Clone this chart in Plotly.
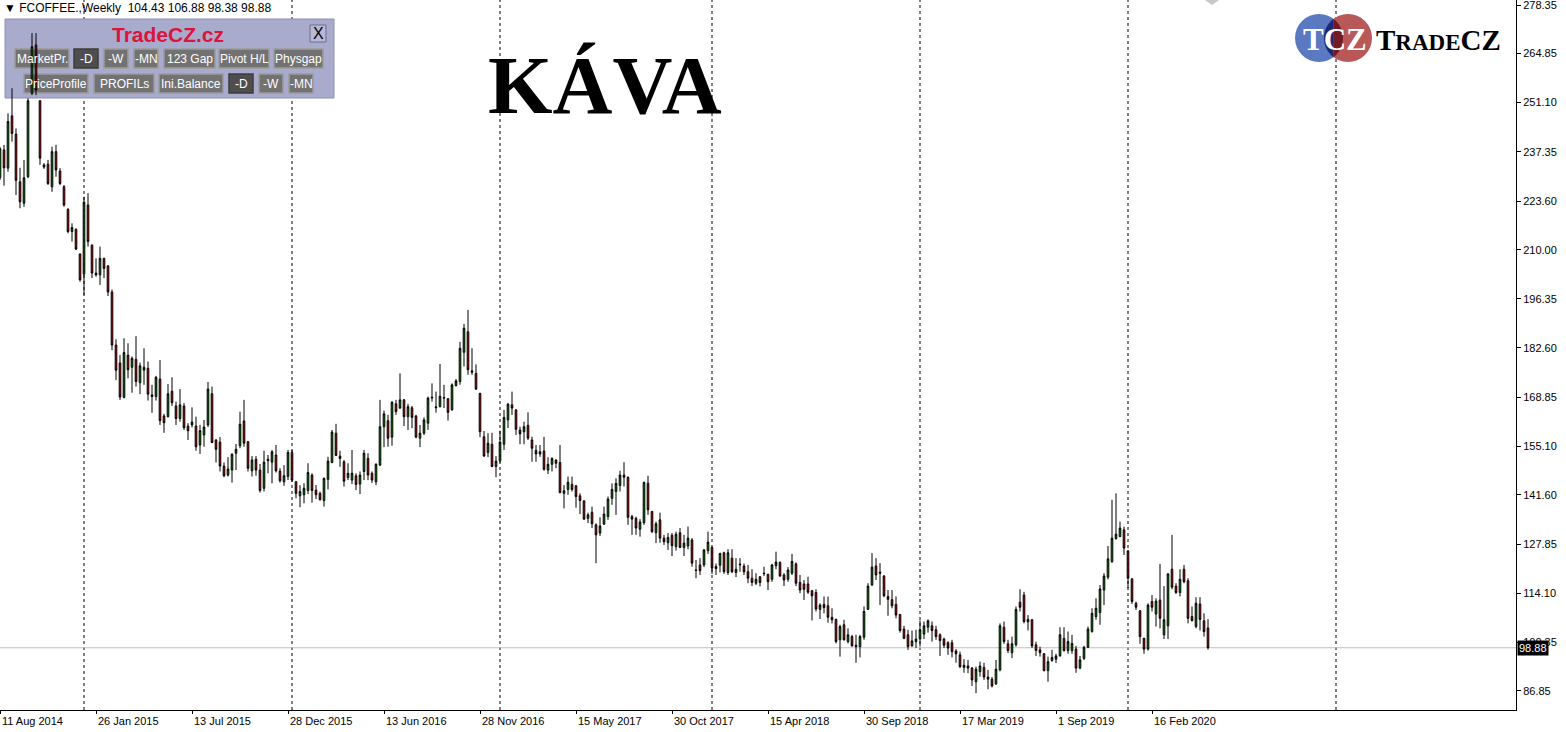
import numpy as np
import pandas as pd
import plotly.graph_objects as go

# weekly FCOFFEE bars, first bar week of 10 Aug 2014
first_bar = "2014-08-10"

opens = [230.1, 237.9, 232.8, 247.4, 242.3, 229.0, 223.0, 230.4, 253.7, 267.2,
         251.6, 233.1, 233.9, 227.6, 237.4, 232.0, 227.6, 221.3, 215.1, 215.7,
         208.8, 203.2, 222.5, 211.3, 203.5, 203.0, 207.6, 205.5, 198.2, 183.4,
         178.4, 168.8, 180.6, 177.2, 179.4, 172.9, 176.4, 176.9, 169.5, 169.0,
         173.9, 163.6, 163.4, 170.5, 166.4, 162.9, 166.4, 160.8, 161.1, 160.8,
         155.5, 158.3, 161.1, 169.8, 156.9, 156.3, 149.6, 147.1, 148.5, 153.2,
         155.3, 162.2, 156.4, 148.3, 151.5, 148.5, 143.4, 151.1, 150.7, 152.7,
         148.2, 145.2, 146.7, 153.4, 145.25, 141.3, 141.6, 142.8, 147.1, 142.9,
         142.0, 140.0, 145.9, 150.6, 158.8, 152.4, 150.8, 146.4, 145.7, 146.9,
         144.6, 148.1, 151.8, 147.6, 145.2, 149.9, 160.6, 162.3, 157.7, 167.0,
         165.8, 168.1, 163.4, 165.9, 163.6, 157.4, 158.8, 161.6, 168.6, 165.9,
         166.2, 168.6, 168.4, 165.3, 172.1, 173.2, 181.4, 187.1, 176.2, 175.5,
         169.9, 157.8, 153.4, 155.7, 149.5, 151.1, 155.7, 162.5, 166.7, 165.3,
         159.7, 159.2, 161.0, 156.9, 154.0, 153.0, 153.8, 148.5, 150.1, 151.3,
         150.6, 142.0, 143.1, 144.5, 144.1, 141.3, 139.9, 135.0, 136.7, 133.2,
         130.9, 133.4, 135.5, 140.6, 142.5, 144.2, 147.1, 146.5, 135.5, 135.0,
         132.0, 133.8, 144.8, 136.9, 131.0, 134.6, 129.5, 128.2, 130.3, 127.1,
         131.0, 126.9, 127.3, 129.0, 120.6, 122.0, 122.0, 126.0, 126.9, 121.6,
         121.9, 125.4, 119.9, 123.9, 119.9, 122.0, 121.7, 120.1, 118.3, 116.9,
         118.7, 119.7, 119.4, 118.0, 121.8, 122.7, 119.2, 118.0, 119.7, 122.3,
         117.1, 116.7, 116.7, 114.8, 114.3, 109.6, 111.0, 110.6, 107.4, 106.8,
         101.1, 105.3, 100.6, 102.0, 99.6, 99.2, 101.8, 109.6, 116.4, 121.7,
         120.0, 118.9, 113.2, 112.3, 111.0, 108.2, 104.1, 102.5, 99.4, 100.6,
         101.3, 102.7, 104.6, 105.0, 103.9, 102.5, 101.3, 100.3, 100.3, 98.0,
         96.9, 93.4, 93.8, 93.2, 89.4, 92.2, 93.4, 90.7, 90.1, 88.8,
         92.7, 104.6, 100.0, 97.5, 99.7, 111.6, 113.6, 106.1, 106.7, 99.7,
         98.3, 97.2, 92.5, 95.3, 95.7, 96.6, 101.5, 98.1, 98.1, 98.5,
         93.2, 95.9, 99.0, 103.4, 107.6, 108.7, 115.0, 118.6, 122.9, 129.4,
         129.9, 131.8, 125.9, 118.1, 111.3, 109.2, 101.5, 98.5, 111.8, 108.3,
         112.2, 102.5, 105.0, 120.8, 116.1, 114.3, 120.8, 117.6, 107.6, 104.8,
         111.1, 106.4, 104.43]

highs = [238.7, 239.3, 248.1, 255.1, 243.9, 232.9, 235.1, 252.3, 270.5, 270.5,
         251.8, 234.2, 235.1, 238.8, 239.3, 232.8, 228.1, 221.6, 217.4, 216.0,
         209.0, 224.8, 225.8, 211.5, 207.6, 210.9, 207.8, 205.75, 198.9, 185.0,
         180.6, 185.3, 183.9, 180.2, 185.9, 178.5, 182.5, 178.8, 172.3, 174.8,
         179.2, 164.2, 172.5, 174.4, 167.6, 171.1, 167.2, 161.6, 166.0, 163.4,
         161.1, 162.5, 173.1, 171.8, 157.1, 157.7, 150.6, 152.1, 153.2, 155.8,
         164.8, 168.1, 156.6, 152.4, 152.4, 150.2, 153.9, 152.7, 154.1, 155.5,
         149.0, 149.9, 154.1, 154.1, 145.3, 144.3, 144.8, 150.4, 147.6, 144.3,
         142.5, 146.4, 152.2, 159.7, 161.4, 153.9, 151.3, 150.4, 154.1, 147.6,
         148.1, 154.1, 153.2, 148.1, 150.4, 168.1, 165.1, 163.9, 167.8, 168.1,
         175.5, 168.3, 167.0, 166.4, 163.9, 161.1, 163.2, 169.0, 172.7, 170.4,
         178.1, 172.3, 168.6, 172.7, 173.9, 184.3, 189.3, 193.2, 182.5, 178.0,
         170.1, 159.4, 158.8, 158.9, 152.4, 159.5, 165.3, 167.2, 170.4, 165.5,
         160.6, 162.0, 164.6, 157.8, 155.5, 155.5, 157.8, 152.1, 152.1, 151.5,
         155.5, 144.3, 146.7, 146.7, 144.3, 142.0, 140.0, 136.6, 138.3, 133.6,
         135.3, 138.3, 141.1, 144.8, 146.2, 148.3, 150.7, 146.7, 136.0, 135.5,
         134.8, 145.3, 146.9, 137.1, 134.1, 136.6, 130.4, 130.9, 130.9, 131.3,
         132.3, 130.4, 132.7, 129.5, 123.4, 123.9, 126.4, 131.3, 127.1, 122.4,
         125.4, 125.7, 126.4, 126.4, 123.9, 123.9, 122.4, 122.0, 120.8, 119.7,
         118.9, 121.5, 119.5, 122.3, 125.7, 123.0, 119.7, 121.4, 125.1, 122.7,
         119.2, 117.8, 118.7, 115.0, 115.2, 111.3, 113.2, 113.2, 109.9, 107.0,
         105.3, 106.7, 104.3, 102.5, 102.5, 102.5, 110.4, 116.9, 125.3, 123.9,
         122.5, 119.2, 115.0, 115.0, 113.2, 108.3, 105.0, 103.9, 103.7, 103.9,
         106.5, 106.2, 106.8, 106.2, 105.0, 102.9, 101.7, 100.7, 101.1, 98.5,
         97.8, 95.7, 95.5, 93.5, 93.6, 95.0, 94.7, 92.7, 90.7, 95.5,
         105.7, 106.2, 101.1, 102.0, 110.4, 115.2, 114.5, 108.0, 106.9, 100.6,
         99.2, 97.4, 96.4, 98.3, 97.2, 104.6, 104.6, 103.4, 102.5, 99.4,
         96.6, 99.4, 104.8, 109.9, 112.7, 116.4, 119.7, 127.3, 140.2, 142.0,
         134.1, 132.7, 126.2, 118.3, 111.75, 109.4, 101.7, 111.3, 113.6, 112.7,
         122.3, 116.1, 119.7, 130.4, 116.9, 120.8, 122.0, 118.3, 110.4, 113.0,
         113.0, 108.5, 106.88]

lows = [229.5, 227.9, 231.8, 240.2, 225.3, 221.6, 222.0, 230.0, 253.2, 253.2,
        233.7, 232.6, 228.1, 226.2, 230.4, 228.1, 222.0, 214.6, 212.3, 209.9,
        201.1, 197.4, 210.9, 202.1, 202.5, 200.2, 202.1, 197.1, 182.0, 173.6,
        168.1, 168.5, 174.1, 170.1, 171.8, 169.7, 172.3, 167.9, 164.5, 167.9,
        161.1, 158.9, 163.2, 166.4, 161.1, 162.0, 159.7, 156.9, 160.4, 153.9,
        153.0, 155.0, 160.5, 156.0, 150.6, 148.1, 146.5, 146.7, 145.0, 148.5,
        154.6, 155.0, 148.1, 146.7, 146.9, 142.2, 142.5, 147.6, 144.8, 147.8,
        145.0, 144.1, 145.7, 145.2, 140.6, 138.1, 139.2, 141.8, 139.4, 140.4,
        140.0, 138.3, 143.1, 150.4, 152.4, 149.4, 143.9, 145.7, 144.6, 142.9,
        141.8, 145.7, 145.7, 144.9, 144.3, 149.6, 154.9, 155.0, 155.3, 163.9,
        165.6, 160.8, 159.7, 160.2, 157.4, 154.9, 158.3, 159.7, 167.6, 164.5,
        166.0, 165.8, 162.3, 165.1, 171.8, 172.3, 177.4, 175.1, 175.1, 170.9,
        157.7, 152.2, 152.1, 149.3, 146.5, 150.6, 154.1, 160.2, 163.9, 158.3,
        155.7, 155.7, 156.9, 150.8, 150.8, 152.2, 148.3, 147.4, 148.1, 149.0,
        142.0, 137.8, 141.6, 142.5, 138.0, 136.2, 134.6, 133.7, 132.3, 122.5,
        130.1, 133.2, 134.6, 138.8, 136.0, 142.5, 143.9, 133.2, 130.4, 130.4,
        129.9, 133.2, 136.0, 130.9, 128.1, 128.2, 127.6, 126.2, 124.5, 126.0,
        126.7, 124.5, 126.4, 121.5, 118.3, 119.2, 121.4, 125.1, 119.5, 119.2,
        119.9, 119.5, 119.2, 119.7, 118.6, 120.1, 119.2, 116.9, 116.1, 116.4,
        116.0, 118.9, 115.0, 117.3, 120.8, 118.7, 116.1, 117.3, 119.2, 116.1,
        114.1, 112.2, 113.9, 106.5, 109.0, 106.9, 108.5, 105.9, 105.7, 100.1,
        96.4, 100.9, 100.1, 99.2, 94.7, 96.2, 101.1, 109.4, 116.2, 117.8,
        110.8, 113.0, 107.8, 109.9, 107.1, 103.1, 101.3, 98.3, 99.2, 98.8,
        99.2, 101.3, 103.1, 100.6, 101.1, 96.6, 98.8, 96.9, 96.2, 94.7,
        93.2, 91.9, 91.8, 88.2, 86.2, 90.8, 89.9, 87.3, 87.8, 88.5,
        92.3, 100.0, 97.4, 96.0, 99.2, 109.0, 105.7, 103.7, 98.8, 96.6,
        96.4, 92.3, 89.4, 95.0, 94.6, 96.4, 97.8, 97.2, 97.2, 91.9,
        92.9, 95.5, 98.8, 103.1, 106.7, 105.3, 110.8, 118.0, 122.6, 129.0,
        129.8, 124.8, 115.5, 111.1, 109.4, 100.0, 97.2, 98.1, 109.0, 104.8,
        104.3, 101.3, 101.3, 115.2, 113.9, 113.2, 116.9, 105.7, 106.2, 104.3,
        103.7, 102.0, 98.38]

closes = [238.2, 232.9, 245.8, 242.5, 229.4, 223.4, 230.1, 251.6, 266.7, 254.6,
          235.6, 233.7, 228.5, 237.4, 232.3, 228.5, 222.5, 215.1, 216.2, 210.2,
          201.6, 223.3, 212.3, 203.5, 203.0, 207.6, 204.8, 198.2, 183.4, 176.4,
          168.9, 181.3, 176.5, 179.7, 173.2, 177.6, 177.2, 169.7, 169.0, 174.4,
          162.3, 161.7, 169.8, 167.3, 162.9, 166.7, 160.3, 159.5, 161.9, 155.0,
          159.5, 160.5, 171.1, 156.2, 154.3, 149.6, 146.9, 148.8, 152.9, 154.3,
          161.3, 156.0, 149.0, 151.3, 148.5, 142.8, 150.7, 151.5, 153.6, 148.3,
          145.5, 146.9, 153.4, 145.7, 142.0, 142.5, 143.4, 147.8, 142.8, 141.6,
          140.2, 146.2, 151.0, 159.1, 152.6, 151.7, 145.4, 147.6, 147.6, 144.5,
          147.1, 153.2, 147.1, 145.7, 150.1, 160.6, 164.2, 157.4, 167.4, 164.8,
          168.1, 163.4, 166.2, 163.2, 157.7, 158.8, 162.5, 168.6, 168.8, 166.1,
          169.1, 168.7, 164.6, 172.3, 173.4, 182.5, 188.1, 176.5, 175.8, 171.1,
          159.2, 152.4, 156.0, 149.5, 151.0, 156.3, 163.2, 166.9, 165.8, 159.9,
          158.6, 160.6, 157.4, 154.6, 153.0, 153.6, 148.7, 150.1, 151.7, 150.4,
          142.2, 142.7, 145.1, 143.1, 141.1, 140.0, 134.8, 136.0, 133.5, 130.4,
          132.9, 136.2, 140.4, 143.1, 144.8, 147.1, 146.5, 135.3, 134.8, 132.3,
          134.0, 145.0, 137.4, 131.3, 133.5, 129.5, 128.5, 129.7, 127.4, 130.6,
          126.9, 128.1, 129.5, 122.5, 120.5, 120.4, 126.2, 128.4, 121.1, 121.0,
          125.2, 120.1, 125.4, 120.1, 120.8, 122.2, 120.1, 118.3, 117.1, 118.0,
          117.1, 119.6, 117.3, 122.0, 122.8, 118.9, 117.8, 120.6, 123.0, 116.9,
          115.0, 115.2, 114.4, 113.4, 109.7, 110.8, 110.1, 107.4, 106.7, 100.6,
          104.8, 101.1, 102.5, 99.4, 99.2, 102.0, 109.0, 116.1, 121.4, 119.2,
          119.7, 113.4, 112.4, 110.6, 108.0, 103.7, 101.5, 99.2, 100.8, 101.3,
          103.9, 105.0, 106.4, 103.7, 102.0, 100.9, 99.6, 98.8, 97.8, 97.2,
          93.6, 94.0, 93.2, 89.9, 92.9, 93.8, 90.7, 90.1, 88.2, 92.9,
          105.0, 100.6, 98.1, 100.0, 109.6, 110.2, 106.2, 106.8, 99.4, 98.1,
          97.5, 92.5, 95.0, 96.2, 96.6, 102.5, 98.1, 100.6, 100.1, 93.2,
          95.5, 99.0, 104.1, 108.5, 109.9, 115.3, 118.9, 123.7, 129.5, 130.6,
          132.3, 126.7, 118.3, 111.8, 110.2, 102.0, 98.5, 110.8, 110.2, 111.9,
          107.1, 106.7, 119.5, 115.8, 114.3, 118.0, 117.3, 107.1, 106.5, 111.3,
          106.8, 103.4, 98.88]

dates = pd.date_range(first_bar, periods=len(closes), freq="7D")

# bottom date scale: one label every 24 bars
label_bars = list(range(0, 289, 24))
date_labels = ["11 Aug 2014", "26 Jan 2015", "13 Jul 2015", "28 Dec 2015",
               "13 Jun 2016", "28 Nov 2016", "15 May 2017", "30 Oct 2017",
               "15 Apr 2018", "30 Sep 2018", "17 Mar 2019", "1 Sep 2019",
               "16 Feb 2020"]

# first bar of each year (period separators)
year_starts = ["2015-01-04", "2016-01-03", "2017-01-01", "2018-01-07",
               "2019-01-06", "2020-01-05", "2021-01-03"]

price_ticks = [278.35, 264.85, 251.10, 237.35, 223.60, 210.00, 196.35, 182.60,
               168.85, 155.10, 141.60, 127.85, 114.10, 100.35, 86.85]

panel_buttons = [("MarketPr.", 15, 69, 0, False), ("-D", 74, 98, 0, True),
                 ("-W", 104, 128, 0, False), ("-MN", 134, 158, 0, False),
                 ("123 Gap", 164, 215, 0, False), ("Pivot H/L", 219, 269, 0, False),
                 ("Physgap", 274, 323, 0, False),
                 ("PriceProfile", 24, 88, 1, False), ("PROFILs", 94, 154, 1, False),
                 ("Ini.Balance", 159, 223, 1, False), ("-D", 229, 253, 1, True),
                 ("-W", 259, 283, 1, False), ("-MN", 289, 313, 1, False)]

W, H = 1566, 732
PW, PH = 1516, 710
FONT = "Liberation Sans, Arial, sans-serif"


def fx(px):
    return px / PW


def fy(py):
    return 1 - py / PH


def note(x, y, text, size, color="black", family=FONT, xa="center", ya="middle"):
    return dict(xref="paper", yref="paper", x=fx(x), y=fy(y), text=text,
                xanchor=xa, yanchor=ya, showarrow=False,
                font=dict(family=family, size=size, color=color))


fig = go.Figure(go.Candlestick(
    x=dates, open=opens, high=highs, low=lows, close=closes,
    increasing=dict(line=dict(color="black", width=1), fillcolor="#00A000"),
    decreasing=dict(line=dict(color="black", width=1), fillcolor="#F00000"),
    whiskerwidth=0, showlegend=False, hoverinfo="skip"))

shapes = []
annotations = []

# period separators
for d in year_starts:
    shapes.append(dict(type="line", xref="x", yref="paper", x0=d, x1=d, y0=0, y1=1,
                       line=dict(color="black", width=1, dash="3px,3px"), layer="below"))

# current price line
shapes.append(dict(type="line", xref="paper", yref="y", x0=0, x1=1,
                   y0=closes[-1], y1=closes[-1],
                   line=dict(color="#C0C0C0", width=1), layer="below"))

annotations.append(dict(xref="paper", yref="y", x=1, y=closes[-1], xanchor="left",
                        yanchor="middle", xshift=1, text=f"{closes[-1]:.2f}",
                        showarrow=False, bgcolor="black", borderpad=1,
                        font=dict(family=FONT, size=11, color="white")))

# date labels
for i, t in zip(label_bars, date_labels):
    annotations.append(dict(xref="x", yref="paper", x=dates[i], y=0, xanchor="left",
                            yanchor="top", yshift=-3, text=t, showarrow=False,
                            font=dict(family=FONT, size=11, color="black")))

# header
annotations.append(note(2, 8, f"▼ FCOFFEE.,Weekly &nbsp;{opens[-1]:.2f} {highs[-1]:.2f} "
                              f"{lows[-1]:.2f} {closes[-1]:.2f}", 12, xa="left"))

# indicator panel
shapes.append(dict(type="rect", xref="paper", yref="paper", x0=fx(5), x1=fx(334),
                   y0=fy(98), y1=fy(19), fillcolor="#A9ABCD",
                   line=dict(color="#8C8EB4", width=1), layer="below"))
shapes.append(dict(type="rect", xref="paper", yref="paper", x0=fx(310), x1=fx(326),
                   y0=fy(42), y1=fy(25), fillcolor="#B8B9D6",
                   line=dict(color="#6C6C8C", width=1), layer="below"))
annotations.append(note(318, 33.5, "X", 16))
annotations.append(note(168, 34, "<b>TradeCZ.cz</b>", 21, color="#DC143C"))
for label, x0, x1, row, dark in panel_buttons:
    y0, y1 = (49, 68) if row == 0 else (74, 93)
    shapes.append(dict(type="rect", xref="paper", yref="paper", x0=fx(x0), x1=fx(x1),
                       y0=fy(y1), y1=fy(y0),
                       fillcolor="#4E4E4E" if dark else "#727272",
                       line=dict(color="#3C3C3C" if dark else "#9C9C9C", width=1.5),
                       layer="below"))
    annotations.append(note((x0 + x1) / 2, (y0 + y1) / 2 + 0.5, label, 12, color="white"))

# title
annotations.append(note(605, 85, "<b>KÁVA</b>", 83,
                        family="Liberation Serif, Times New Roman, serif"))

# TradeCZ logo
bcx, rcx, ccy, rad = 1319, 1348, 38, 24
shapes.append(dict(type="circle", xref="paper", yref="paper", x0=fx(bcx - rad),
                   x1=fx(bcx + rad), y0=fy(ccy + rad), y1=fy(ccy - rad),
                   fillcolor="#5A79C0", line=dict(width=0)))
shapes.append(dict(type="circle", xref="paper", yref="paper", x0=fx(rcx - rad),
                   x1=fx(rcx + rad), y0=fy(ccy + rad), y1=fy(ccy - rad),
                   fillcolor="#B85858", line=dict(width=0)))
half = (rcx - bcx) / 2
a = np.arccos(half / rad)
for cx, th, col in [(rcx, np.linspace(np.pi - a, np.pi + a, 30), "#1C2878"),
                    (bcx, np.linspace(-a, a, 30), "#741A24")]:
    pts = [(cx + rad * np.cos(t), ccy + rad * np.sin(t)) for t in th]
    path = "M " + " L ".join(f"{fx(px):.5f},{fy(py):.5f}" for px, py in pts) + " Z"
    shapes.append(dict(type="path", xref="paper", yref="paper", path=path,
                       fillcolor=col, line=dict(width=0)))
annotations.append(note(1335, 39, "<b>TCZ</b>", 31, color="white",
                        family="Liberation Serif, serif"))
annotations.append(note(1438, 40, "<b>T<span style='font-size:23px'>RADE</span>CZ</b>", 29,
                        family="Liberation Serif, serif"))

# chart shift marker
shapes.append(dict(type="path", xref="paper", yref="paper",
                   path=f"M {fx(1205)},{fy(0)} L {fx(1219)},{fy(0)} L {fx(1212)},{fy(5)} Z",
                   fillcolor="#C8C8C8", line=dict(width=0)))

x_end = dates[0] + pd.Timedelta(days=7 * 379)

fig.update_layout(
    width=W, height=H,
    margin=dict(l=0, r=W - PW, t=0, b=H - PH, autoexpand=False),
    paper_bgcolor="white", plot_bgcolor="white",
    shapes=shapes, annotations=annotations,
    showlegend=False, boxgap=0.42,
    xaxis=dict(type="date", range=[dates[0].isoformat(), x_end.isoformat()],
               showgrid=False, zeroline=False, showline=True, linecolor="black",
               linewidth=1, tickvals=[dates[i] for i in label_bars], ticks="outside",
               ticklen=3, tickcolor="black", showticklabels=False,
               rangeslider=dict(visible=False), fixedrange=True),
    yaxis=dict(side="right", range=[81.5, 279.75], tickvals=price_ticks,
               ticktext=[f"{v:.2f}" for v in price_ticks], ticks="outside",
               ticklen=4, tickcolor="black", showline=True, linecolor="black",
               linewidth=1, showgrid=False, zeroline=False, fixedrange=True,
               ticklabeloverflow="allow",
               tickfont=dict(family=FONT, size=11, color="black")),
)

fig.write_html("out.html", config={"displayModeBar": False},
               post_script="document.body.style.margin='0';"
                           "document.body.style.overflow='hidden';")
